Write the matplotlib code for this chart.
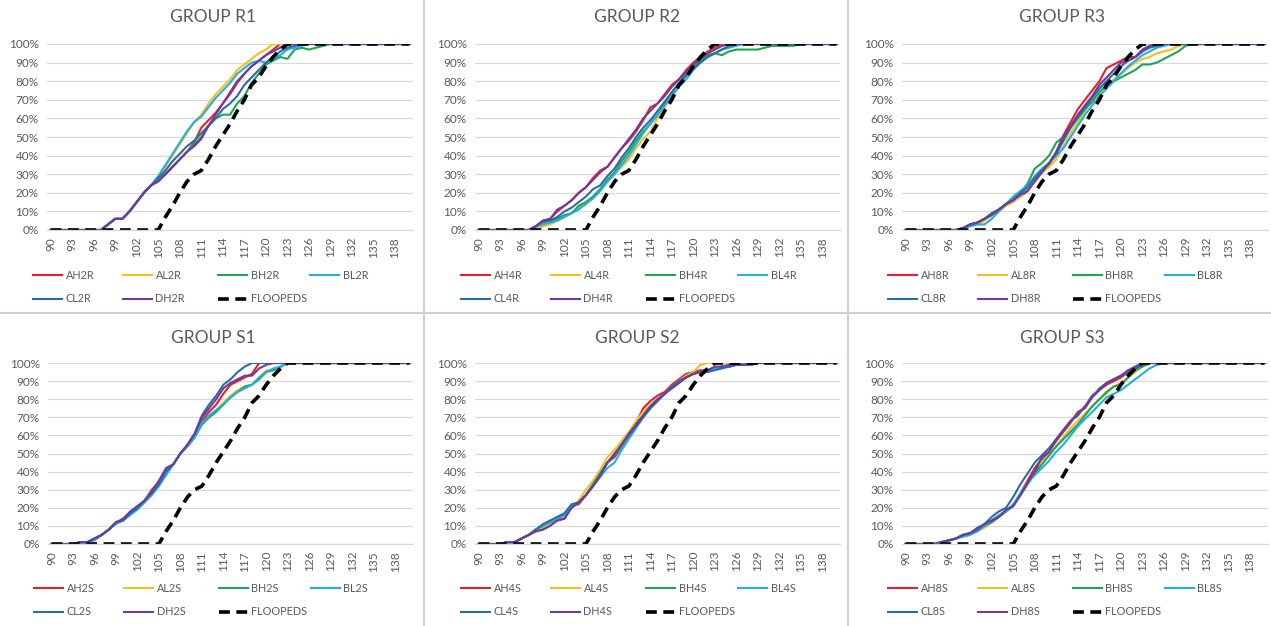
import matplotlib
matplotlib.use("Agg")
import matplotlib.pyplot as plt
from matplotlib.lines import Line2D
from matplotlib.ticker import PercentFormatter

plt.rcParams['font.family'] = ['Lato', 'DejaVu Sans']

# ---------------- data ----------------
x_values = list(range(90, 141))
x_tick_values = list(range(90, 139, 3))
y_tick_values = [0, 10, 20, 30, 40, 50, 60, 70, 80, 90, 100]

titles = ["GROUP R1", "GROUP R2", "GROUP R3", "GROUP S1", "GROUP S2", "GROUP S3"]
series_prefixes = ["AH", "AL", "BH", "BL", "CL", "DH"]
group_suffixes = ["2R", "4R", "8R", "2S", "4S", "8S"]
ref_label = "FLOOPEDS"

floopeds = [0, 0, 0, 0, 0, 0, 0, 0, 0, 0,
            0, 0, 0, 0, 0, 0, 7, 13, 20, 26,
            30, 32, 38, 45, 51, 57, 64, 70, 78, 82,
            88, 93, 97, 100, 100, 100, 100, 100, 100, 100,
            100, 100, 100, 100, 100, 100, 100, 100, 100, 100, 100]

# GROUP R1
ah2r = [0, 0, 0, 0, 0, 0, 0, 0, 3, 6,
        6, 10, 15, 20, 24, 27, 30, 34, 38, 42,
        47, 55, 59, 63, 68, 73, 79, 84, 88, 91,
        94, 97, 100, 100, 100, 100, 100, 100, 100, 100,
        100, 100, 100, 100, 100, 100, 100, 100, 100, 100, 100]
al2r = [0, 0, 0, 0, 0, 0, 0, 0, 3, 6,
        6, 10, 15, 20, 24, 28, 34, 40, 46, 52,
        58, 62, 68, 73, 77, 81, 86, 89, 92, 95,
        97, 100, 100, 100, 100, 100, 100, 100, 100, 100,
        100, 100, 100, 100, 100, 100, 100, 100, 100, 100, 100]
bh2r = [0, 0, 0, 0, 0, 0, 0, 0, 3, 6,
        6, 10, 15, 20, 24, 27, 30, 34, 38, 42,
        46, 50, 56, 60, 62, 62, 68, 72, 79, 84,
        89, 91, 93, 92, 97, 98, 97, 98, 99, 100,
        100, 100, 100, 100, 100, 100, 100, 100, 100, 100, 100]
bl2r = [0, 0, 0, 0, 0, 0, 0, 0, 3, 6,
        6, 10, 15, 20, 24, 29, 35, 41, 47, 53,
        58, 61, 66, 71, 75, 79, 84, 87, 90, 91,
        90, 92, 94, 97, 98, 99, 100, 100, 100, 100,
        100, 100, 100, 100, 100, 100, 100, 100, 100, 100, 100]
cl2r = [0, 0, 0, 0, 0, 0, 0, 0, 3, 6,
        6, 10, 15, 20, 24, 28, 32, 37, 41, 45,
        48, 52, 56, 60, 65, 68, 72, 78, 82, 86,
        90, 93, 96, 98, 99, 100, 100, 100, 100, 100,
        100, 100, 100, 100, 100, 100, 100, 100, 100, 100, 100]
dh2r = [0, 0, 0, 0, 0, 0, 0, 0, 3, 6,
        6, 10, 15, 20, 24, 26, 30, 34, 38, 42,
        45, 49, 56, 62, 68, 74, 80, 84, 88, 91,
        94, 96, 98, 100, 100, 100, 100, 100, 100, 100,
        100, 100, 100, 100, 100, 100, 100, 100, 100, 100, 100]

# GROUP R2
ah4r = [0, 0, 0, 0, 0, 0, 0, 0, 2, 5,
        6, 10, 13, 16, 20, 23, 28, 32, 34, 39,
        44, 48, 53, 59, 66, 68, 73, 78, 81, 86,
        90, 93, 96, 98, 100, 100, 100, 100, 100, 100,
        100, 100, 100, 100, 100, 100, 100, 100, 100, 100, 100]
al4r = [0, 0, 0, 0, 0, 0, 0, 0, 1, 2,
        3, 5, 7, 9, 12, 15, 18, 22, 26, 30,
        34, 38, 44, 49, 53, 60, 66, 72, 77, 83,
        88, 92, 95, 97, 99, 100, 100, 100, 100, 100,
        100, 100, 100, 100, 100, 100, 100, 100, 100, 100, 100]
bh4r = [0, 0, 0, 0, 0, 0, 0, 0, 2, 4,
        5, 6, 8, 9, 13, 15, 18, 22, 27, 31,
        37, 42, 48, 53, 57, 62, 68, 74, 79, 84,
        88, 91, 94, 95, 94, 96, 97, 97, 97, 97,
        98, 99, 99, 99, 99, 100, 100, 100, 100, 100, 100]
bl4r = [0, 0, 0, 0, 0, 0, 0, 0, 2, 3,
        4, 5, 7, 9, 11, 14, 17, 21, 26, 30,
        35, 40, 46, 52, 57, 62, 67, 72, 77, 81,
        86, 90, 93, 95, 97, 98, 99, 100, 100, 100,
        100, 100, 100, 100, 100, 100, 100, 100, 100, 100, 100]
cl4r = [0, 0, 0, 0, 0, 0, 0, 0, 2, 5,
        5, 7, 10, 12, 15, 18, 22, 24, 29, 33,
        39, 44, 50, 55, 59, 64, 69, 74, 79, 83,
        87, 90, 93, 95, 97, 99, 100, 100, 100, 100,
        100, 100, 100, 100, 100, 100, 100, 100, 100, 100, 100]
dh4r = [0, 0, 0, 0, 0, 0, 0, 0, 2, 5,
        6, 11, 13, 16, 20, 23, 27, 31, 34, 39,
        44, 49, 54, 60, 64, 68, 72, 77, 81, 85,
        89, 92, 95, 97, 99, 100, 100, 100, 100, 100,
        100, 100, 100, 100, 100, 100, 100, 100, 100, 100, 100]

# GROUP R3
ah8r = [0, 0, 0, 0, 0, 0, 0, 0, 1, 3,
        4, 6, 8, 11, 14, 16, 18, 21, 27, 31,
        35, 42, 51, 58, 65, 70, 75, 80, 87, 89,
        91, 93, 93, 96, 99, 100, 100, 100, 100, 100,
        100, 100, 100, 100, 100, 100, 100, 100, 100, 100, 100]
al8r = [0, 0, 0, 0, 0, 0, 0, 0, 1, 2,
        3, 5, 8, 10, 13, 15, 18, 22, 28, 31,
        34, 38, 45, 52, 58, 64, 70, 74, 78, 81,
        84, 87, 90, 92, 93, 95, 96, 97, 99, 100,
        100, 100, 100, 100, 100, 100, 100, 100, 100, 100, 100]
bh8r = [0, 0, 0, 0, 0, 0, 0, 0, 1, 3,
        4, 6, 9, 11, 14, 17, 20, 25, 33, 36,
        40, 47, 50, 55, 60, 65, 69, 74, 78, 80,
        82, 84, 86, 89, 89, 90, 92, 94, 96, 99,
        100, 100, 100, 100, 100, 100, 100, 100, 100, 100, 100]
bl8r = [0, 0, 0, 0, 0, 0, 0, 0, 1, 2,
        3, 3, 6, 10, 14, 18, 21, 24, 29, 33,
        36, 40, 44, 50, 56, 62, 67, 72, 76, 80,
        84, 88, 91, 94, 96, 98, 99, 100, 100, 100,
        100, 100, 100, 100, 100, 100, 100, 100, 100, 100, 100]
cl8r = [0, 0, 0, 0, 0, 0, 0, 0, 1, 3,
        4, 6, 9, 11, 14, 16, 20, 23, 28, 32,
        36, 41, 48, 55, 61, 66, 71, 76, 80, 84,
        88, 91, 93, 96, 98, 99, 100, 100, 100, 100,
        100, 100, 100, 100, 100, 100, 100, 100, 100, 100, 100]
dh8r = [0, 0, 0, 0, 0, 0, 0, 0, 1, 3,
        4, 6, 8, 11, 14, 16, 19, 21, 26, 31,
        36, 42, 50, 56, 62, 67, 72, 78, 82, 86,
        90, 91, 93, 97, 99, 100, 100, 100, 100, 100,
        100, 100, 100, 100, 100, 100, 100, 100, 100, 100, 100]

# GROUP S1
ah2s = [0, 0, 0, 0, 1, 1, 3, 5, 8, 12,
        13, 17, 20, 24, 30, 34, 41, 44, 50, 54,
        60, 68, 73, 77, 83, 88, 90, 92, 94, 100,
        100, 100, 100, 100, 100, 100, 100, 100, 100, 100,
        100, 100, 100, 100, 100, 100, 100, 100, 100, 100, 100]
al2s = [0, 0, 0, 0, 1, 1, 3, 5, 8, 12,
        13, 17, 20, 24, 29, 33, 40, 44, 50, 54,
        59, 66, 70, 74, 78, 82, 85, 87, 88, 92,
        96, 96, 98, 100, 100, 100, 100, 100, 100, 100,
        100, 100, 100, 100, 100, 100, 100, 100, 100, 100, 100]
bh2s = [0, 0, 0, 0, 1, 1, 3, 5, 8, 12,
        13, 17, 20, 24, 29, 33, 40, 44, 50, 54,
        59, 66, 70, 73, 77, 81, 84, 87, 88, 91,
        95, 96, 98, 100, 100, 100, 100, 100, 100, 100,
        100, 100, 100, 100, 100, 100, 100, 100, 100, 100, 100]
bl2s = [0, 0, 0, 0, 0, 1, 2, 5, 8, 11,
        13, 16, 19, 23, 27, 32, 38, 44, 50, 54,
        59, 67, 71, 74, 77, 81, 84, 86, 88, 92,
        95, 97, 98, 100, 100, 100, 100, 100, 100, 100,
        100, 100, 100, 100, 100, 100, 100, 100, 100, 100, 100]
cl2s = [0, 0, 0, 0, 1, 1, 3, 5, 8, 12,
        13, 17, 20, 24, 28, 33, 40, 44, 50, 55,
        61, 71, 77, 82, 88, 91, 95, 98, 100, 100,
        100, 100, 100, 100, 100, 100, 100, 100, 100, 100,
        100, 100, 100, 100, 100, 100, 100, 100, 100, 100, 100]
dh2s = [0, 0, 0, 0, 1, 1, 3, 5, 8, 12,
        14, 18, 21, 24, 29, 35, 42, 44, 50, 55,
        61, 70, 75, 80, 86, 89, 91, 93, 93, 97,
        99, 100, 100, 100, 100, 100, 100, 100, 100, 100,
        100, 100, 100, 100, 100, 100, 100, 100, 100, 100, 100]

# GROUP S2
ah4s = [0, 0, 0, 0, 1, 1, 3, 5, 7, 8,
        11, 13, 14, 21, 22, 27, 33, 39, 45, 48,
        54, 61, 67, 75, 79, 82, 84, 88, 91, 94,
        95, 96, 96, 97, 98, 98, 99, 99, 99, 100,
        100, 100, 100, 100, 100, 100, 100, 100, 100, 100, 100]
al4s = [0, 0, 0, 0, 1, 1, 3, 5, 7, 9,
        11, 13, 16, 21, 24, 30, 35, 41, 48, 52,
        57, 62, 68, 73, 77, 80, 83, 87, 90, 93,
        95, 99, 100, 100, 100, 100, 100, 100, 100, 100,
        100, 100, 100, 100, 100, 100, 100, 100, 100, 100, 100]
bh4s = [0, 0, 0, 0, 1, 1, 3, 5, 8, 10,
        12, 14, 16, 21, 23, 27, 33, 39, 45, 49,
        54, 60, 66, 71, 76, 80, 83, 87, 90, 92,
        94, 95, 96, 97, 98, 98, 99, 99, 99, 100,
        100, 100, 100, 100, 100, 100, 100, 100, 100, 100, 100]
bl4s = [0, 0, 0, 0, 1, 1, 3, 5, 8, 10,
        12, 14, 16, 20, 23, 27, 32, 37, 42, 45,
        52, 58, 64, 70, 75, 79, 83, 86, 89, 92,
        94, 95, 96, 97, 98, 98, 99, 99, 99, 100,
        100, 100, 100, 100, 100, 100, 100, 100, 100, 100, 100]
cl4s = [0, 0, 0, 0, 1, 1, 3, 5, 8, 11,
        13, 15, 17, 22, 23, 27, 32, 38, 45, 49,
        55, 60, 65, 70, 75, 79, 83, 87, 90, 92,
        94, 95, 95, 96, 97, 98, 99, 99, 99, 100,
        100, 100, 100, 100, 100, 100, 100, 100, 100, 100, 100]
dh4s = [0, 0, 0, 0, 1, 1, 3, 5, 7, 8,
        10, 13, 14, 20, 23, 27, 32, 38, 45, 50,
        55, 61, 66, 71, 76, 80, 83, 86, 89, 92,
        94, 95, 96, 98, 98, 99, 99, 99, 100, 100,
        100, 100, 100, 100, 100, 100, 100, 100, 100, 100, 100]

# GROUP S3
ah8s = [0, 0, 0, 0, 0, 1, 2, 3, 5, 6,
        8, 11, 12, 15, 18, 21, 28, 35, 42, 47,
        51, 57, 62, 67, 73, 75, 81, 85, 88, 90,
        92, 95, 97, 99, 100, 100, 100, 100, 100, 100,
        100, 100, 100, 100, 100, 100, 100, 100, 100, 100, 100]
al8s = [0, 0, 0, 0, 0, 1, 2, 3, 5, 6,
        7, 9, 12, 15, 18, 21, 27, 33, 39, 45,
        49, 54, 59, 64, 68, 72, 76, 80, 83, 87,
        89, 92, 95, 98, 100, 100, 100, 100, 100, 100,
        100, 100, 100, 100, 100, 100, 100, 100, 100, 100, 100]
bh8s = [0, 0, 0, 0, 0, 1, 2, 3, 5, 6,
        8, 10, 12, 15, 18, 21, 27, 33, 39, 44,
        49, 54, 58, 62, 66, 71, 76, 80, 84, 87,
        88, 92, 96, 98, 100, 100, 100, 100, 100, 100,
        100, 100, 100, 100, 100, 100, 100, 100, 100, 100, 100]
bl8s = [0, 0, 0, 0, 0, 1, 2, 3, 4, 5,
        7, 10, 13, 16, 18, 22, 28, 34, 38, 42,
        46, 51, 55, 60, 65, 69, 73, 77, 81, 83,
        85, 88, 91, 94, 97, 99, 100, 100, 100, 100,
        100, 100, 100, 100, 100, 100, 100, 100, 100, 100, 100]
cl8s = [0, 0, 0, 0, 0, 1, 2, 3, 5, 6,
        9, 11, 15, 18, 20, 26, 33, 39, 45, 49,
        53, 58, 63, 68, 72, 76, 81, 86, 89, 91,
        93, 95, 97, 99, 100, 100, 100, 100, 100, 100,
        100, 100, 100, 100, 100, 100, 100, 100, 100, 100, 100]
dh8s = [0, 0, 0, 0, 0, 1, 2, 3, 5, 6,
        8, 11, 13, 15, 19, 21, 27, 34, 40, 48,
        51, 58, 63, 68, 71, 76, 82, 85, 89, 91,
        93, 96, 98, 100, 100, 100, 100, 100, 100, 100,
        100, 100, 100, 100, 100, 100, 100, 100, 100, 100, 100]

group_series = [
    [ah2r, al2r, bh2r, bl2r, cl2r, dh2r],
    [ah4r, al4r, bh4r, bl4r, cl4r, dh4r],
    [ah8r, al8r, bh8r, bl8r, cl8r, dh8r],
    [ah2s, al2s, bh2s, bl2s, cl2s, dh2s],
    [ah4s, al4s, bh4s, bl4s, cl4s, dh4s],
    [ah8s, al8s, bh8s, bl8s, cl8s, dh8s],
]

for gi, grp in enumerate(group_series):
    for si, s in enumerate(grp):
        if len(s) != len(x_values):
            raise ValueError(f"group {gi} series {si} has {len(s)} values")

# ---------------- style ----------------
series_colors = ["#E5202E", "#F4C020", "#1EA552", "#23AEE6", "#2B6CA3", "#6E3AA0"]
text_color = "#595959"
grid_color = "#D9D9D9"

W, H = 1271, 626
fig = plt.figure(figsize=(W / 100, H / 100), dpi=100)
fig.patch.set_facecolor("white")

# panel geometry in pixels: (axes left, axes right, y top(100%), y bottom(0%), panel center x, title y, legend top)
panels = [
    (47, 413, 44, 230, 213, 17, 268),
    (475, 840, 44, 230, 637, 17, 268),
    (902, 1268, 44, 230, 1062, 17, 268),
    (48, 413, 363, 544, 213, 338, 581),
    (475, 840, 363, 544, 637, 338, 581),
    (902, 1268, 363, 544, 1062, 338, 581),
]
legend_col_offsets = [-14, 76, 171, 263]

def fx(px):
    return px / W

def fy(py):
    return 1 - py / H

for gi, (l, r, t, b, cx, ty, ly) in enumerate(panels):
    ax = fig.add_axes([fx(l), fy(b), fx(r - l), (b - t) / H])
    handles = []
    labels = []
    for si, s in enumerate(group_series[gi]):
        lab = series_prefixes[si] + group_suffixes[gi]
        h, = ax.plot(x_values, s, color=series_colors[si], lw=1.5, solid_joinstyle="round")
        handles.append(h)
        labels.append(lab)
    h, = ax.plot(x_values, floopeds, color="black", lw=2.6, ls=(0, (3.0, 1.8)))
    handles.append(h)
    labels.append(ref_label)

    ax.set_xlim(89.5, 140.5)
    ax.set_ylim(0, 100)
    ax.set_yticks(y_tick_values)
    ax.yaxis.set_major_formatter(PercentFormatter(decimals=0))
    ax.set_xticks(x_tick_values)
    ax.set_xticklabels([str(v) for v in x_tick_values], rotation=90)
    ax.tick_params(axis="both", length=0, labelsize=8.5, labelcolor=text_color)
    ax.tick_params(axis="y", pad=6)
    ax.tick_params(axis="x", pad=5)
    ax.grid(axis="y", color=grid_color, lw=0.9)
    ax.set_axisbelow(True)
    for sp in ["top", "left", "right"]:
        ax.spines[sp].set_visible(False)
    ax.spines["bottom"].set_color(grid_color)
    ax.spines["bottom"].set_linewidth(0.9)

    fig.text(fx(cx), fy(ty), titles[gi], ha="center", va="center",
             fontsize=12.5, color=text_color)

    # legend in 4 columns placed like Excel's
    leg_objs = []
    for c in range(4):
        idx = [c, c + 4] if c + 4 < len(handles) else [c]
        leg = ax.legend([handles[i] for i in idx], [labels[i] for i in idx],
                        loc="upper left",
                        bbox_to_anchor=(fx(l + legend_col_offsets[c]), fy(ly + 2)),
                        bbox_transform=fig.transFigure,
                        frameon=False, borderpad=0, borderaxespad=0,
                        handlelength=2.7, handletextpad=0.3,
                        labelspacing=1.15, fontsize=7.8, labelcolor=text_color)
        leg_objs.append(leg)
    for leg in leg_objs[:-1]:
        ax.add_artist(leg)

# panel separators
fig.add_artist(Line2D([fx(424), fx(424)], [0, 1], color="#D0D0D0", lw=1.5))
fig.add_artist(Line2D([fx(848), fx(848)], [0, 1], color="#D0D0D0", lw=1.5))
fig.add_artist(Line2D([0, 1], [fy(313), fy(313)], color="#D0D0D0", lw=1.5))

fig.savefig("out.png", dpi=100, facecolor="white")
